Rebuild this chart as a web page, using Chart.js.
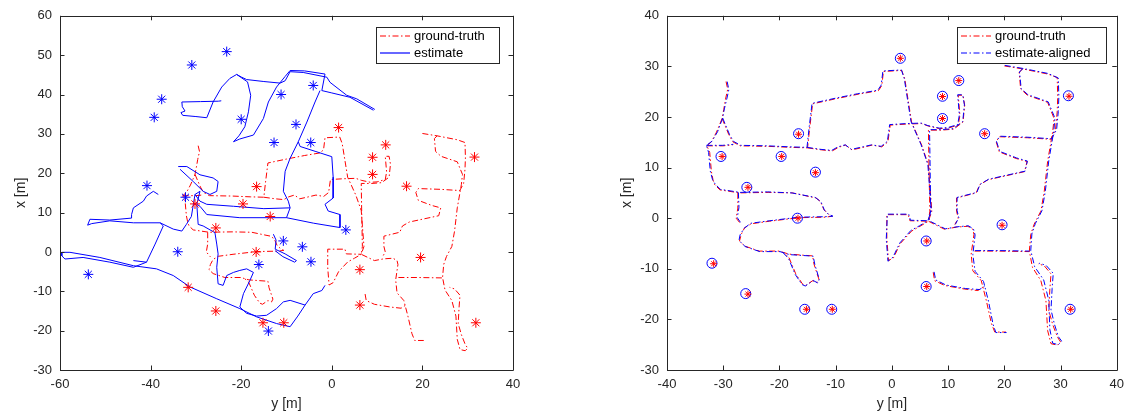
<!DOCTYPE html>
<html>
<head>
<meta charset="utf-8">
<script src="https://cdn.jsdelivr.net/npm/chart.js@4/dist/chart.umd.min.js"></script>
<style>
    body { margin: 0; background: #fff; }
    #wrap { position: relative; width: 1131px; height: 416px; }
    .panel { position: absolute; top: 0; height: 416px; }
</style>
</head>
<body>
<div id="wrap">
    <div class="panel" style="left:0;width:530px"><canvas id="leftChart"></canvas></div>
    <div class="panel" style="left:580px;width:551px"><canvas id="rightChart"></canvas></div>
</div>
<script>
// Data: points are [y, x] in metres (y horizontal, x vertical)

var leftYTicks = [-60, -40, -20, 0, 20, 40];
var leftXTicks = [-30, -20, -10, 0, 10, 20, 30, 40, 50, 60];
var rightYTicks = [-40, -30, -20, -10, 0, 10, 20, 30, 40];
var rightXTicks = [-30, -20, -10, 0, 10, 20, 30, 40];

// ground-truth trajectory, split into pieces
var gtTrack = [
    [[-29.5,27.0],[-29.2,25.5],[-29.6,23.5],[-29.9,21.5],[-30.2,19.7],[-31.2,17.0],[-32.1,15.1],[-32.9,14.3],[-32.4,13.0],[-32.1,9.2],[-31.8,7.5],[-31.5,6.6],[-30.6,5.6],[-27.1,5.0],[-22.0,5.1],[-17.7,5.0],[-13.5,4.0],[-12.7,3.3],[-12.1,1.7],[-11.2,0.7],[-10.6,0.4],[-11.8,0.2],[-16.5,0.1],[-21.8,-0.6],[-25.0,-1.1],[-26.2,-1.9],[-26.8,-3.2],[-27.1,-4.5],[-26.2,-5.5],[-23.6,-6.5],[-20.0,-6.5],[-19.2,-6.8],[-18.3,-7.1],[-14.1,-7.45],[-13.85,-9.1],[-13.0,-12.0],[-13.3,-12.7],[-14.1,-12.35],[-15.3,-13.3],[-15.9,-13.0],[-17.1,-11.0],[-18.3,-7.8],[-19.2,-6.8]],
    [[-27.4,5.0],[-27.4,2.0],[-27.7,0.0],[-26.8,-1.25]],
    [[-30.2,19.7],[-29.0,16.5],[-28.3,15.1],[-27.0,14.3],[-22.0,14.2],[-18.0,14.0],[-15.0,13.9],[-14.6,18.0],[-14.1,22.6],[-10.0,23.6],[-6.0,24.5],[-2.4,25.2],[-1.8,26.2],[-1.5,29.0],[1.75,29.2],[2.3,27.5],[3.5,19.0],[5.3,14.45],[6.5,10.5],[7.1,1.4],[6.5,-0.6],[5.0,-1.6],[3.5,-2.55],[1.5,-5.0],[0.3,-7.8],[-0.6,-8.4],[-0.9,-4.0],[-0.9,0.7],[2.9,0.7],[3.2,-0.5],[6.5,-0.6]],
    [[-32.9,14.3],[-30.0,14.3],[-28.3,14.5]],
    [[-15.0,13.9],[-12.5,13.5],[-10.6,13.3],[-9.5,14.0],[-8.25,14.45],[-7.1,13.5],[-5.5,13.9],[-3.5,14.45],[-1.8,14.1],[-0.7,15.1],[-0.3,18.4],[2.6,18.6],[5.3,18.7],[6.5,18.2],[8.5,17.7],[10.0,17.8],[11.8,18.4],[12.1,20.3],[11.8,24.3],[12.65,24.3],[12.95,22.3],[12.65,19.0],[11.0,17.6],[8.8,17.4],[6.5,17.4],[6.6,10.0],[6.75,1.4],[6.5,-0.6],[9.4,-2.2],[11.5,-1.75],[13.5,-1.6],[14.4,-2.2],[14.6,-3.2],[14.1,-7.1],[14.4,-10.4],[15.9,-12.35],[16.8,-16.3],[17.7,-20.8],[18.3,-22.5],[20.3,-22.5]],
    [[14.7,-6.5],[19.0,-6.5],[24.4,-6.6]],
    [[20.0,30.1],[23.25,29.5],[27.7,28.5],[29.4,27.8],[29.5,24.0],[29.4,21.0],[29.1,17.4],[28.25,15.6],[24.1,15.9],[19.1,16.1],[18.55,15.1],[19.1,13.1],[22.1,11.8],[24.05,11.2],[23.6,9.2],[17.1,7.6],[15.6,6.6],[15.0,5.0],[11.5,4.0],[11.5,1.4],[11.8,0.0],[11.2,-1.25]],
    [[23.25,29.5],[22.65,28.8],[22.9,25.55],[24.1,24.3],[27.7,22.9],[28.85,19.7],[28.6,17.1],[27.7,11.2],[27.1,5.3],[26.5,1.4],[25.3,-1.2],[24.7,-3.2],[24.45,-6.5],[25.0,-9.7],[26.5,-12.35],[27.4,-16.3],[27.7,-22.2],[28.3,-24.8],[29.45,-25.1],[30.0,-24.45],[29.45,-23.5],[28.6,-21.0],[27.9,-18.2],[28.1,-14.0],[28.3,-11.0],[27.1,-9.4],[26.0,-9.0]],
    [[7.35,-10.7],[7.6,-12.35],[9.4,-13.3],[12.9,-14.0],[15.3,-14.3],[16.2,-13.6]]
];

// raw estimate (left plot)
var estTrack = [
    [[-32.9,34.7],[-33.3,35.4],[-32.4,35.8],[-33.0,36.9],[-33.1,38.1],[-29.0,38.2],[-25.05,38.3],[-24.4,38.4]],
    [[-32.9,34.7],[-30.0,34.4],[-27.6,34.1],[-26.2,38.1],[-24.3,41.9],[-22.5,44.1],[-21.0,45.1],[-19.9,44.4],[-18.8,43.8],[-15.0,43.3],[-11.4,42.9],[-10.3,43.5],[-9.2,45.8],[-6.3,45.6],[-1.1,44.4],[-0.4,43.1],[3.3,39.8],[5.5,38.9],[9.5,36.2]],
    [[-21.0,45.1],[-18.6,43.2],[-17.9,39.8],[-18.4,35.6],[-19.2,31.8],[-20.5,29.5],[-21.7,28.0],[-20.3,28.7],[-17.3,29.7],[-15.1,33.9],[-14.0,38.1],[-12.2,41.9],[-10.3,44.6],[-9.2,46.1],[-6.0,46.0],[-1.5,45.2],[-2.2,41.0],[0.0,40.4],[4.0,39.3],[9.2,36.0]],
    [[-2.6,41.0],[-3.7,38.1],[-5.5,33.0],[-7.4,28.0],[-9.2,23.8],[-10.3,20.5],[-10.7,15.4],[-9.6,12.9],[-9.2,11.2],[-10.0,8.7],[-13.6,8.7],[-20.3,8.7],[-27.6,9.5],[-29.1,11.6],[-29.8,12.1]],
    [[-7.4,28.0],[-7.0,26.8],[-3.5,25.5],[0.0,24.2],[0.3,19.0],[0.3,13.7],[-1.5,12.1],[-0.8,10.4],[1.8,9.5],[1.8,6.2],[-4.0,7.3],[-10.0,8.7]],
    [[-33.9,21.7],[-32.0,21.7],[-29.1,19.6],[-26.2,18.8],[-25.1,17.9],[-25.4,15.4],[-26.9,14.6],[-28.4,15.4],[-30.6,17.9],[-33.5,21.0]],
    [[-9.2,11.2],[-15.0,11.0],[-21.7,11.6],[-27.6,12.1],[-29.1,12.9],[-30.2,14.6],[-29.1,15.4],[-29.8,12.1]],
    [[-29.8,12.1],[-29.5,7.0],[-28.4,6.6],[-25.8,4.9],[-25.4,2.0],[-25.1,-0.5],[-25.4,-3.9],[-25.1,-8.1],[-24.0,-8.5],[-23.2,-6.0],[-21.7,-5.2],[-20.3,-4.7],[-18.8,-4.3],[-17.3,-5.2],[-18.1,-7.3],[-19.5,-10.6],[-20.3,-14.0],[-18.8,-15.6],[-16.6,-16.3],[-14.4,-16.1],[-12.2,-14.4],[-10.7,-12.7],[-9.2,-12.3],[-5.9,-13.5],[-4.1,-10.6],[-2.2,-9.8],[-1.5,-8.5]],
    [[-5.9,-13.5],[-7.5,-16.3],[-9.2,-19.0],[-12.2,-18.2],[-16.6,-16.5],[-20.3,-14.4],[-25.4,-11.9],[-31.3,-8.9],[-35.0,-6.0],[-38.7,-4.3],[-43.8,-3.5],[-51.2,-1.4],[-57.8,-0.1],[-59.6,-0.1],[-59.6,-1.0],[-58.9,-1.8],[-54.9,-1.4],[-49.0,-2.6],[-43.8,-3.9],[-40.9,-2.6],[-43.8,-2.2]],
    [[-40.9,-2.6],[-39.0,2.0],[-37.2,6.6],[-37.9,7.4],[-43.8,7.4],[-49.0,7.9],[-53.0,7.2],[-53.9,6.8],[-53.4,8.3],[-49.0,8.1],[-44.2,8.6],[-44.2,9.5],[-43.8,11.2],[-41.6,12.9],[-40.9,14.2],[-39.4,15.4],[-38.3,14.6]],
    [[-37.9,7.4],[-35.0,5.8],[-33.1,5.3],[-32.1,7.0],[-31.0,9.0],[-30.2,14.6]],
    [[-12.9,4.5],[-12.3,3.0],[-12.5,0.7],[-10.3,-0.5],[-7.8,-2.2],[-8.2,-2.6],[-10.8,-1.2],[-12.5,0.3]]
];

// aligned estimate (right plot)
var alignedTrack = [
    [[-29.3,27.0],[-29.0,25.4],[-29.4,23.4],[-29.8,21.6],[-30.1,19.8],[-31.0,17.1],[-32.0,15.2],[-33.0,14.4],[-32.6,13.0],[-32.3,9.3],[-31.9,7.6],[-31.4,6.7],[-30.5,5.7],[-27.0,5.1],[-22.1,5.2],[-17.8,5.0],[-13.6,4.1],[-12.6,3.2],[-12.0,1.6],[-11.3,0.8],[-10.5,0.4],[-11.9,0.3],[-16.6,0.2],[-21.7,-0.5],[-25.1,-1.0],[-26.3,-2.0],[-27.0,-3.3],[-27.2,-4.4],[-26.1,-5.6],[-23.5,-6.6],[-19.9,-6.6],[-19.1,-6.9],[-18.2,-7.2],[-14.0,-7.5],[-13.7,-9.2],[-12.9,-12.1],[-13.2,-12.8],[-14.0,-12.3],[-15.4,-13.4],[-16.0,-13.1],[-17.2,-11.1],[-18.4,-7.9],[-19.3,-6.9]],
    [[-27.3,5.1],[-27.2,2.1],[-27.5,0.1],[-26.7,-1.2]],
    [[-30.1,19.8],[-28.9,16.6],[-28.2,15.2],[-26.9,14.4],[-22.1,14.3],[-18.1,14.1],[-15.1,14.0],[-14.7,18.1],[-14.2,22.7],[-10.1,23.7],[-6.1,24.6],[-2.5,25.3],[-1.9,26.3],[-1.6,29.1],[1.7,29.3],[2.2,27.6],[3.4,19.1],[5.2,14.5],[6.4,10.6],[7.0,1.5],[6.4,-0.5],[4.9,-1.5],[3.4,-2.4],[1.4,-4.9],[0.2,-7.7],[-0.7,-8.5],[-1.0,-4.1],[-0.8,0.8],[3.0,0.8],[3.3,-0.4],[6.4,-0.5]],
    [[-33.0,14.4],[-30.1,14.4],[-28.2,14.6]],
    [[-15.1,14.0],[-12.6,13.6],[-10.7,13.4],[-9.6,14.1],[-8.3,14.5],[-7.2,13.6],[-5.6,14.0],[-3.6,14.5],[-1.9,14.2],[-0.8,15.2],[-0.4,18.5],[2.5,18.7],[5.2,18.8],[6.4,18.3],[8.4,17.8],[9.9,17.9],[11.7,18.5],[12.0,20.4],[11.7,24.4],[12.6,24.4],[12.9,22.4],[12.6,19.1],[10.9,17.7],[8.7,17.5],[6.7,17.5],[6.8,10.1],[6.9,1.5],[6.6,-0.5],[9.5,-2.1],[11.6,-1.7],[13.6,-1.5],[14.5,-2.1],[14.8,-3.3],[14.4,-7.2],[14.8,-10.5],[16.3,-12.5],[17.2,-16.5],[18.0,-21.0],[18.5,-22.6],[20.4,-22.6]],
    [[14.8,-6.4],[19.1,-6.4],[24.5,-6.5]],
    [[20.1,30.2],[23.3,29.6],[27.8,28.6],[29.6,27.7],[29.7,24.0],[29.6,21.1],[29.3,17.5],[28.4,15.7],[24.2,16.0],[19.2,16.2],[18.6,15.2],[19.2,13.2],[22.2,11.9],[24.1,11.3],[23.7,9.3],[17.2,7.7],[15.7,6.7],[15.1,5.1],[11.6,4.1],[11.6,1.5],[11.9,0.1],[11.3,-1.2]],
    [[23.3,29.6],[22.7,28.9],[23.0,25.6],[24.2,24.4],[27.8,23.0],[29.0,19.8],[28.8,17.2],[27.9,11.3],[27.3,5.4],[26.7,1.5],[25.5,-1.1],[24.9,-3.1],[24.7,-6.4],[25.4,-9.6],[27.0,-12.2],[27.9,-16.2],[28.1,-22.0],[28.6,-24.7],[29.6,-25.0],[30.2,-24.3],[29.6,-23.4],[28.9,-20.9],[28.3,-18.1],[28.5,-13.9],[28.7,-10.9],[27.4,-9.3],[26.2,-8.9]],
    [[7.5,-10.6],[7.8,-12.2],[9.6,-13.2],[13.1,-13.9],[15.6,-14.1],[16.5,-13.4]]
];

// landmarks
var gtLandmarks = [[1.5,31.6],[11.9,27.2],[9.0,24.05],[31.5,24.1],[9.0,19.7],[16.5,16.7],[-16.6,16.6],[-30.2,12.2],[-19.6,12.2],[-13.6,9.0],[-25.6,6.1],[-16.7,0.0],[19.6,-1.4],[6.2,-4.5],[-31.7,-9.0],[6.2,-13.5],[-25.6,-15.0],[-15.2,-18.0],[-10.6,-18.0],[31.8,-18.0]];
var estLandmarks = [[-23.2,50.9],[-30.9,47.5],[-37.55,38.8],[-39.2,34.2],[-20.0,33.7],[-11.2,40.0],[-12.75,27.8],[-40.8,16.85],[-32.3,13.9],[-4.1,42.3],[-7.9,32.4],[-4.65,27.8],[-34.0,0.05],[-53.75,-5.7],[-14.0,-20.1],[-16.1,-3.2],[-10.7,2.8],[3.1,5.6],[-6.5,1.3],[-4.6,-2.5]];
var alignedLandmarks = [[1.5,31.6],[11.9,27.2],[9.0,24.1],[31.4,24.2],[9.0,19.7],[16.5,16.7],[-16.6,16.7],[-30.4,12.2],[-19.7,12.2],[-13.6,9.1],[-25.8,6.1],[-16.8,0.0],[19.6,-1.3],[6.1,-4.5],[-32.0,-8.9],[6.1,-13.5],[-26.0,-14.9],[-15.5,-18.0],[-10.7,-18.0],[31.7,-18.0]];

var FONT = '"Liberation Sans", Arial, Helvetica, sans-serif';
var AXIS_COLOR = '#262626';
var RED = '#ff0000';
var BLUE = '#0000ff';
var DASH_DOT = [6, 2.5, 1.5, 2.5];

function toPoints(list) {
    return list.map(function(p) { return { x: p[0], y: p[1] }; });
}

function lineSets(track, color, dash, order) {
    return track.map(function(seg) {
        return {
            data: toPoints(seg),
            showLine: true,
            borderColor: color,
            borderWidth: 1,
            borderDash: dash,
            pointRadius: 0,
            pointHoverRadius: 0,
            fill: false,
            order: order
        };
    });
}

function markerSet(list, style, color, radius, order) {
    return {
        data: toPoints(list),
        showLine: false,
        pointStyle: style,
        pointRadius: radius,
        pointHoverRadius: radius,
        pointBorderColor: color,
        pointBackgroundColor: 'rgba(0,0,0,0)',
        pointBorderWidth: 1,
        borderColor: color,
        order: order
    };
}

function axisScales(xMin, xMax, xTicks, yMin, yMax, yTicks, yWidth) {
    var tickFont = { family: FONT, size: 13 };
    return {
        x: {
            type: 'linear', position: 'bottom', min: xMin, max: xMax,
            afterBuildTicks: function(s) { s.ticks = xTicks.map(function(v) { return { value: v }; }); },
            ticks: { color: AXIS_COLOR, font: tickFont, padding: 7, maxRotation: 0, autoSkip: false },
            grid: { display: false, drawTicks: false },
            border: { display: false },
            afterFit: function(s) { s.height = 46; }
        },
        y: {
            type: 'linear', position: 'left', min: yMin, max: yMax,
            afterBuildTicks: function(s) { s.ticks = yTicks.map(function(v) { return { value: v }; }); },
            ticks: { color: AXIS_COLOR, font: tickFont, padding: 8, autoSkip: false },
            grid: { display: false, drawTicks: false },
            border: { display: false },
            afterFit: function(s) { s.width = yWidth; }
        }
    };
}

// box, inward ticks, axis titles and legend, MATLAB style
var framePlugin = {
    id: 'frame',
    afterDatasetsDraw: function(chart, args, opts) {
        var ctx = chart.ctx, a = chart.chartArea;
        var sx = chart.scales.x, sy = chart.scales.y;
        var tl = 4.5;
        ctx.save();
        ctx.strokeStyle = AXIS_COLOR;
        ctx.lineWidth = 1;
        ctx.setLineDash([]);
        ctx.beginPath();
        ctx.rect(Math.round(a.left) + 0.5, Math.round(a.top) + 0.5, Math.round(a.right - a.left), Math.round(a.bottom - a.top));
        sx.ticks.forEach(function(t) {
            var p = Math.round(sx.getPixelForValue(t.value)) + 0.5;
            ctx.moveTo(p, a.bottom); ctx.lineTo(p, a.bottom - tl);
            ctx.moveTo(p, a.top); ctx.lineTo(p, a.top + tl);
        });
        sy.ticks.forEach(function(t) {
            var p = Math.round(sy.getPixelForValue(t.value)) + 0.5;
            ctx.moveTo(a.left, p); ctx.lineTo(a.left + tl, p);
            ctx.moveTo(a.right, p); ctx.lineTo(a.right - tl, p);
        });
        ctx.stroke();

        // axis titles
        ctx.fillStyle = AXIS_COLOR;
        ctx.font = '14px ' + FONT;
        ctx.textAlign = 'center';
        ctx.textBaseline = 'middle';
        ctx.fillText(opts.xTitle, (a.left + a.right) / 2, 404);
        ctx.save();
        ctx.translate(opts.yTitleX, (a.top + a.bottom) / 2);
        ctx.rotate(-Math.PI / 2);
        ctx.fillText(opts.yTitle, 0, 0);
        ctx.restore();

        // legend
        var lg = opts.legend;
        ctx.fillStyle = '#fff';
        ctx.fillRect(lg.left, lg.top, lg.width, lg.height);
        ctx.strokeStyle = AXIS_COLOR;
        ctx.strokeRect(lg.left + 0.5, lg.top + 0.5, lg.width, lg.height);
        ctx.font = '13px ' + FONT;
        ctx.textAlign = 'left';
        lg.items.forEach(function(item, i) {
            var y = lg.top + 9 + i * 17;
            ctx.strokeStyle = item.color;
            ctx.lineWidth = 1.2;
            ctx.setLineDash(item.dash);
            ctx.beginPath();
            ctx.moveTo(lg.left + 4, y);
            ctx.lineTo(lg.left + 34, y);
            ctx.stroke();
            ctx.setLineDash([]);
            ctx.fillStyle = '#000';
            ctx.fillText(item.label, lg.left + 38, y);
        });
        ctx.restore();
    }
};

function makeChart(id, datasets, scales, padRight, frame) {
    return new Chart(document.getElementById(id), {
        type: 'scatter',
        data: { datasets: datasets },
        options: {
            responsive: true,
            maintainAspectRatio: false,
            animation: false,
            layout: { padding: { left: 0, top: 13, right: padRight, bottom: 0 } },
            scales: scales,
            plugins: {
                legend: { display: false },
                tooltip: { enabled: false },
                frame: frame
            }
        },
        plugins: [framePlugin]
    });
}

makeChart('leftChart',
    [].concat(
        lineSets(gtTrack, RED, DASH_DOT, 3),
        lineSets(estTrack, BLUE, [], 2),
        [markerSet(gtLandmarks, 'star', RED, 5, 1), markerSet(estLandmarks, 'star', BLUE, 5, 1)]
    ),
    axisScales(-60, 40, leftYTicks, -30, 60, leftXTicks, 60),
    17,
    {
        xTitle: 'y [m]', yTitle: 'x [m]', yTitleX: 21,
        legend: { left: 376, top: 27, width: 123, height: 36, items: [
            { label: 'ground-truth', color: RED, dash: DASH_DOT },
            { label: 'estimate', color: BLUE, dash: [] }
        ] }
    }
);

makeChart('rightChart',
    [].concat(
        lineSets(gtTrack, RED, DASH_DOT, 3),
        lineSets(alignedTrack, BLUE, DASH_DOT, 2),
        [markerSet(alignedLandmarks, 'circle', BLUE, 5, 1), markerSet(gtLandmarks, 'star', RED, 3.5, 0)]
    ),
    axisScales(-40, 40, rightYTicks, -30, 40, rightXTicks, 87),
    12,
    {
        xTitle: 'y [m]', yTitle: 'x [m]', yTitleX: 47,
        legend: { left: 377, top: 27, width: 149, height: 36, items: [
            { label: 'ground-truth', color: RED, dash: DASH_DOT },
            { label: 'estimate-aligned', color: BLUE, dash: DASH_DOT }
        ] }
    }
);
</script>
</body>
</html>
